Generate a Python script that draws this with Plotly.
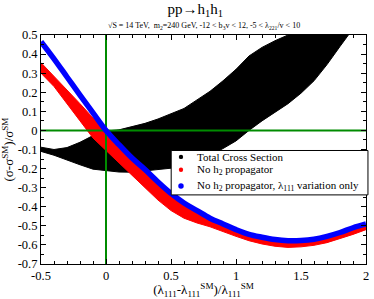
import plotly.graph_objects as go

# ---------------- data ----------------
x_grid = [-0.5, -0.4, -0.3, -0.2, -0.1, 0.0, 0.1, 0.2, 0.3, 0.4, 0.5, 0.6, 0.7,
          0.8, 0.9, 1.0, 1.1, 1.2, 1.3, 1.4, 1.5, 1.6, 1.7, 1.8, 1.9, 2.0]

# No h2 propagator, lambda_111 variation only (blue band centre)
blue_y = [0.465, 0.375, 0.28, 0.185, 0.092, 0.0, -0.075, -0.145, -0.205, -0.27,
          -0.33, -0.38, -0.42, -0.46, -0.49, -0.52, -0.545, -0.56, -0.572, -0.578,
          -0.577, -0.57, -0.555, -0.535, -0.51, -0.49]

# No h2 propagator (red band edges)
red_upper = [0.355, 0.285, 0.21, 0.14, 0.065, -0.005, -0.08, -0.15, -0.21, -0.275,
             -0.335, -0.385, -0.425, -0.465, -0.495, -0.525, -0.55, -0.565, -0.577,
             -0.583, -0.582, -0.575, -0.56, -0.54, -0.515, -0.495]
red_lower = [0.30, 0.23, 0.14, 0.05, -0.04, -0.105, -0.17, -0.235, -0.30, -0.365,
             -0.42, -0.46, -0.485, -0.505, -0.53, -0.555, -0.578, -0.595, -0.607,
             -0.613, -0.61, -0.602, -0.588, -0.568, -0.545, -0.52]

# Total cross section (black region outline)
black_top_x = [-0.5, -0.4, -0.3, -0.2, -0.1, 0.0, 0.1, 0.2, 0.3, 0.4, 0.5, 0.6, 0.7,
               0.8, 0.9, 1.0, 1.1, 1.2, 1.3, 1.4, 1.6, 1.87]
black_top_y = [-0.088, -0.1, -0.09, -0.062, -0.027, -0.003, 0.003, 0.018, 0.037, 0.06,
               0.088, 0.115, 0.16, 0.205, 0.26, 0.32, 0.39, 0.435, 0.47, 0.5, 0.505, 0.505]
black_bot_x = [1.87, 1.8, 1.7, 1.6, 1.5, 1.4, 1.3, 1.2, 1.1, 1.0, 0.9, 0.8, 0.7, 0.6,
               0.5, 0.4, 0.3, 0.2, 0.1, 0.0, -0.1, -0.2, -0.3, -0.4, -0.5]
black_bot_y = [0.505, 0.44, 0.345, 0.26, 0.195, 0.14, 0.095, 0.05, 0.0, -0.055, -0.095,
               -0.13, -0.16, -0.18, -0.198, -0.205, -0.213, -0.219, -0.218, -0.21,
               -0.203, -0.18, -0.155, -0.13, -0.11]

x_range = [-0.5, 2.0]
y_range = [-0.7, 0.5]
x_tick_vals = [-0.5, 0, 0.5, 1, 1.5, 2]
x_tick_text = ["-0.5", "0", "0.5", "1", "1.5", "2"]
y_tick_vals = [0.5, 0.4, 0.3, 0.2, 0.1, 0.0, -0.1, -0.2, -0.3, -0.4, -0.5, -0.6, -0.7]
y_tick_text = ["0.5", "0.4", "0.3", "0.2", "0.1", "0", "-0.1", "-0.2", "-0.3",
               "-0.4", "-0.5", "-0.6", "-0.7"]
ref_value = 0.0

legend_names = ["Total Cross Section",
                "No h<sub>2</sub> propagator",
                "No h<sub>2</sub> propagator, λ<sub>111</sub> variation only"]
legend_colors = ["black", "#ff0000", "#0000ff"]

SERIF = "Liberation Serif, Times New Roman, serif"
GREEN = "#008b00"

# ---------------- figure geometry (pixels) ----------------
W, H = 374, 299
ML, MR, MT, MB = 37, 5, 35, 32
PW, PH = W - ML - MR, H - MT - MB


def px_x(p):
    return (p - ML) / PW


def px_y(p):
    return (H - MB - p) / PH


fig = go.Figure()

# black region
fig.add_trace(go.Scatter(
    x=black_top_x + black_bot_x, y=black_top_y + black_bot_y,
    mode="lines", fill="toself", fillcolor="black",
    line=dict(color="black", width=1), showlegend=False, hoverinfo="skip"))

# red band
fig.add_trace(go.Scatter(
    x=x_grid + x_grid[::-1], y=red_upper + red_lower[::-1],
    mode="lines", fill="toself", fillcolor="#ff0000",
    line=dict(color="#ff0000", width=1), showlegend=False, hoverinfo="skip"))

# green reference lines
fig.add_trace(go.Scatter(x=x_range, y=[ref_value, ref_value], mode="lines",
                         line=dict(color=GREEN, width=2), showlegend=False,
                         hoverinfo="skip"))
fig.add_trace(go.Scatter(x=[ref_value, ref_value], y=y_range, mode="lines",
                         line=dict(color=GREEN, width=2), showlegend=False,
                         hoverinfo="skip"))

# blue band
fig.add_trace(go.Scatter(x=x_grid, y=blue_y, mode="lines",
                         line=dict(color="#0000ff", width=5.5, shape="spline"),
                         showlegend=False, hoverinfo="skip"))

# ---------------- custom legend (box, markers, texts) ----------------
shapes = [dict(type="rect", xref="paper", yref="paper",
               x0=px_x(170), x1=px_x(371), y0=px_y(197), y1=px_y(152),
               fillcolor="white", line=dict(color="black", width=1), layer="above")]
annotations = []
row_py = [158.5, 171.5, 188]
marker_r = [2.2, 2.2, 2.8]
for name, col, py, r in zip(legend_names, legend_colors, row_py, marker_r):
    shapes.append(dict(type="circle", xref="paper", yref="paper",
                       x0=px_x(180 - r), x1=px_x(180 + r),
                       y0=px_y(py + r), y1=px_y(py - r),
                       fillcolor=col, line=dict(color=col, width=0), layer="above"))
    annotations.append(dict(text=name, xref="paper", yref="paper",
                            x=px_x(194), y=px_y(py), xanchor="left", yanchor="middle",
                            showarrow=False,
                            font=dict(family=SERIF, size=11, color="black")))

annotations.append(dict(
    text="√S = 14 TeV,  m<sub>2</sub>=240 GeV, -12 < b<sub>3</sub>v < 12, -5 < λ<sub>221</sub>/v < 10",
    xref="paper", yref="paper", x=0.5, y=px_y(25.5),
    xanchor="center", yanchor="middle", showarrow=False,
    font=dict(family=SERIF, size=8, color="black")))

axis_common = dict(showgrid=False, zeroline=False, showline=True, linecolor="black",
                   linewidth=1, mirror="ticks", ticks="inside", ticklen=5,
                   tickcolor="black", tickwidth=1,
                   tickfont=dict(family=SERIF, size=12.5, color="black"))

fig.update_xaxes(range=x_range, tickmode="array", tickvals=x_tick_vals,
                 ticktext=x_tick_text,
                 minor=dict(dtick=0.1, tick0=0, ticks="inside", ticklen=3,
                            tickcolor="black", showgrid=False),
                 title=dict(text="(λ<sub>111</sub>-λ<sub>111</sub><sup>SM</sup>)/λ<sub>111</sub><sup>SM</sup>",
                            font=dict(family=SERIF, size=13, color="black"), standoff=2),
                 **axis_common)
fig.update_yaxes(range=y_range, tickmode="array", tickvals=y_tick_vals,
                 ticktext=y_tick_text,
                 minor=dict(dtick=0.05, tick0=0, ticks="inside", ticklen=3,
                            tickcolor="black", showgrid=False),
                 title=dict(text="(σ-σ<sup>SM</sup>)/σ<sup>SM</sup>",
                            font=dict(family=SERIF, size=13, color="black"), standoff=4),
                 **axis_common)

fig.update_layout(
    width=W, height=H,
    margin=dict(l=ML, r=MR, t=MT, b=MB, pad=0),
    paper_bgcolor="white", plot_bgcolor="white",
    font=dict(family=SERIF, color="black"),
    title=dict(text="pp→h<sub>1</sub>h<sub>1</sub>", x=0.522, xanchor="center",
               y=0.972, yanchor="middle", yref="container",
               font=dict(family=SERIF, size=15, color="black")),
    shapes=shapes,
    annotations=annotations,
    showlegend=False,
)

fig.write_html("out.html", post_script="document.body.style.margin='0';",
               config={"displayModeBar": False})
